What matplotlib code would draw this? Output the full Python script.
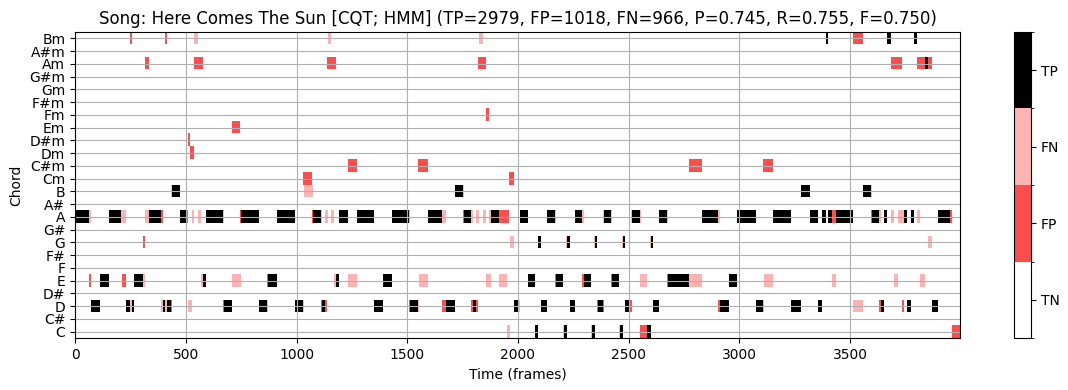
import numpy as np
import matplotlib
matplotlib.use('Agg')
import matplotlib.pyplot as plt
from matplotlib import colors
import matplotlib.ticker as mticker

chord_labels = ['C', 'C#', 'D', 'D#', 'E', 'F', 'F#', 'G', 'G#', 'A', 'A#', 'B',
                'Cm', 'C#m', 'Dm', 'D#m', 'Em', 'Fm', 'F#m', 'Gm', 'G#m', 'Am', 'A#m', 'Bm']
num_frames = 3997
title = 'Song: Here Comes The Sun [CQT; HMM] (TP=2979, FP=1018, FN=966, P=0.745, R=0.755, F=0.750)'

# (chord, first frame, last frame + 1)
tp_segments = [
    ('A', 6, 65), ('A', 155, 208), ('A', 336, 390), ('A', 472, 503), ('A', 589, 666),
    ('A', 747, 829), ('A', 910, 991), ('A', 1073, 1109), ('A', 1190, 1231), ('A', 1271, 1348),
    ('A', 1430, 1506), ('A', 1592, 1655), ('A', 1755, 1786), ('A', 1877, 1913), ('A', 2008, 2044),
    ('A', 2130, 2166), ('A', 2256, 2288), ('A', 2387, 2419), ('A', 2514, 2550), ('A', 2636, 2672),
    ('A', 2830, 2902), ('A', 2988, 3070), ('A', 3151, 3232), ('A', 3314, 3354), ('A', 3372, 3386),
    ('A', 3399, 3413), ('A', 3431, 3512), ('A', 3594, 3625), ('A', 3648, 3661), ('A', 3738, 3752),
    ('A', 3770, 3783), ('A', 3892, 3946),
    ('B', 436, 472), ('B', 1714, 1750), ('B', 3273, 3314), ('B', 3553, 3589),
    ('Bm', 3386, 3399), ('Bm', 3661, 3679), ('Bm', 3783, 3797),
    ('Am', 3833, 3847),
    ('G', 2089, 2103), ('G', 2220, 2234), ('G', 2347, 2356), ('G', 2473, 2482), ('G', 2600, 2609),
    ('E', 115, 155), ('E', 268, 305), ('E', 576, 589), ('E', 869, 910), ('E', 1176, 1190),
    ('E', 1389, 1430), ('E', 2044, 2076), ('E', 2170, 2202), ('E', 2297, 2329), ('E', 2424, 2455),
    ('E', 2676, 2771), ('E', 2952, 2988),
    ('D', 74, 115), ('D', 232, 250), ('D', 259, 264), ('D', 395, 408), ('D', 417, 431),
    ('D', 670, 707), ('D', 829, 865), ('D', 991, 1027), ('D', 1113, 1127), ('D', 1348, 1389),
    ('D', 1511, 1547), ('D', 1673, 1714), ('D', 1795, 1809), ('D', 1981, 2003), ('D', 2103, 2130),
    ('D', 2234, 2256), ('D', 2360, 2383), ('D', 2482, 2505), ('D', 2609, 2636), ('D', 2911, 2952),
    ('D', 3070, 3106), ('D', 3232, 3273), ('D', 3354, 3368), ('D', 3634, 3648), ('D', 3752, 3770),
    ('D', 3865, 3892),
    ('C', 2076, 2089), ('C', 2207, 2220), ('C', 2333, 2347), ('C', 2459, 2473), ('C', 2582, 2600),
]

fp_segments = [
    ('Bm', 250, 259), ('Bm', 408, 417), ('Bm', 3512, 3553),
    ('Am', 314, 336), ('Am', 535, 576), ('Am', 1136, 1176), ('Am', 1818, 1854), ('Am', 3679, 3729),
    ('Am', 3797, 3833), ('Am', 3847, 3865),
    ('Fm', 1854, 1868),
    ('Em', 707, 743),
    ('D#m', 508, 520), ('Dm', 521, 535),
    ('C#m', 1231, 1271), ('C#m', 1547, 1592), ('C#m', 2771, 2830), ('C#m', 3106, 3151),
    ('Cm', 1027, 1068), ('Cm', 1958, 1981),
    ('A', 0, 6), ('A', 390, 395), ('A', 503, 508), ('A', 743, 747), ('A', 1068, 1073),
    ('A', 1750, 1755), ('A', 1913, 1958), ('A', 3413, 3431), ('A', 3589, 3594), ('A', 3946, 3955),
    ('G', 305, 314),
    ('E', 65, 70), ('E', 210, 228), ('E', 264, 268), ('E', 865, 869), ('E', 2166, 2170),
    ('E', 2288, 2297), ('E', 2419, 2424), ('E', 2672, 2676),
    ('D', 70, 74), ('D', 228, 232), ('D', 431, 436), ('D', 666, 670), ('D', 1109, 1113),
    ('D', 1127, 1136), ('D', 1506, 1511), ('D', 1655, 1673), ('D', 1786, 1795), ('D', 1809, 1818),
    ('D', 2356, 2360), ('D', 2383, 2387), ('D', 2505, 2514), ('D', 2902, 2911), ('D', 3368, 3372),
    ('D', 3625, 3634), ('D', 3729, 3738),
    ('C', 2550, 2582), ('C', 3955, 3997),
]

fn_segments = [
    ('Bm', 539, 553), ('Bm', 1140, 1154), ('Bm', 1823, 1841),
    ('B', 431, 436), ('B', 1032, 1073), ('B', 1750, 1755), ('B', 3589, 3594),
    ('A', 65, 74), ('A', 208, 232), ('A', 314, 336), ('A', 526, 539), ('A', 553, 567),
    ('A', 666, 670), ('A', 1109, 1113), ('A', 1127, 1140), ('A', 1154, 1167), ('A', 1506, 1511),
    ('A', 1655, 1673), ('A', 1786, 1795), ('A', 1809, 1823), ('A', 1841, 1854), ('A', 1868, 1877),
    ('A', 2166, 2170), ('A', 2288, 2297), ('A', 2383, 2387), ('A', 2419, 2424), ('A', 2509, 2514),
    ('A', 2550, 2554), ('A', 2672, 2676), ('A', 2902, 2911), ('A', 3368, 3372), ('A', 3625, 3634),
    ('A', 3679, 3693), ('A', 3711, 3738), ('A', 3797, 3810),
    ('G', 1963, 1981), ('G', 2216, 2220), ('G', 2342, 2347), ('G', 2469, 2473), ('G', 2595, 2600),
    ('G', 3847, 3865),
    ('E', 305, 314), ('E', 567, 576), ('E', 707, 747), ('E', 1167, 1176), ('E', 1231, 1271),
    ('E', 1551, 1592), ('E', 1854, 1877), ('E', 1913, 1949), ('E', 2550, 2582), ('E', 2771, 2830),
    ('E', 3110, 3151), ('E', 3413, 3431), ('E', 3693, 3711), ('E', 3810, 3833),
    ('D', 250, 259), ('D', 390, 395), ('D', 408, 417), ('D', 512, 526), ('D', 865, 869),
    ('D', 1027, 1032), ('D', 1547, 1551), ('D', 2003, 2008), ('D', 3106, 3110), ('D', 3512, 3553),
    ('C', 1949, 1963), ('C', 2202, 2207), ('C', 2329, 2333), ('C', 2455, 2459),
]

# 0 = TN, 1 = FP, 2 = FN, 3 = TP
I_vis = np.zeros((len(chord_labels), num_frames))
for code, segs in [(1, fp_segments), (2, fn_segments), (3, tp_segments)]:
    for chord, start, end in segs:
        I_vis[chord_labels.index(chord), start:end] = code

eval_cmap = colors.ListedColormap([[1, 1, 1], [1, 0.3, 0.3], [1, 0.7, 0.7], [0, 0, 0]])
eval_bounds = np.array([0, 1, 2, 3, 4]) - 0.5
eval_norm = colors.BoundaryNorm(eval_bounds, 4)

fig = plt.figure(figsize=(10.68, 3.9), dpi=100)
ax = fig.add_axes([0.0702, 0.1333, 0.8287, 0.7847])
cax = fig.add_axes([0.9494, 0.1333, 0.0159, 0.7847])

extent = [-0.5, num_frames - 0.5, -0.5, len(chord_labels) - 0.5]
im = ax.imshow(I_vis, origin='lower', aspect='auto', cmap=eval_cmap, norm=eval_norm,
               extent=extent, interpolation='nearest')

cbar = plt.colorbar(im, cax=cax, boundaries=eval_bounds, ticks=[0, 1, 2, 3])
cbar.ax.set_yticklabels(['TN', 'FP', 'FN', 'TP'])
cbar.ax.yaxis.set_minor_locator(mticker.FixedLocator(eval_bounds))

ax.set_yticks(np.arange(len(chord_labels)))
ax.set_yticklabels(chord_labels)
ax.set_xlabel('Time (frames)')
ax.set_ylabel('Chord')
ax.set_title(title)
ax.grid()

plt.savefig('out.png')
